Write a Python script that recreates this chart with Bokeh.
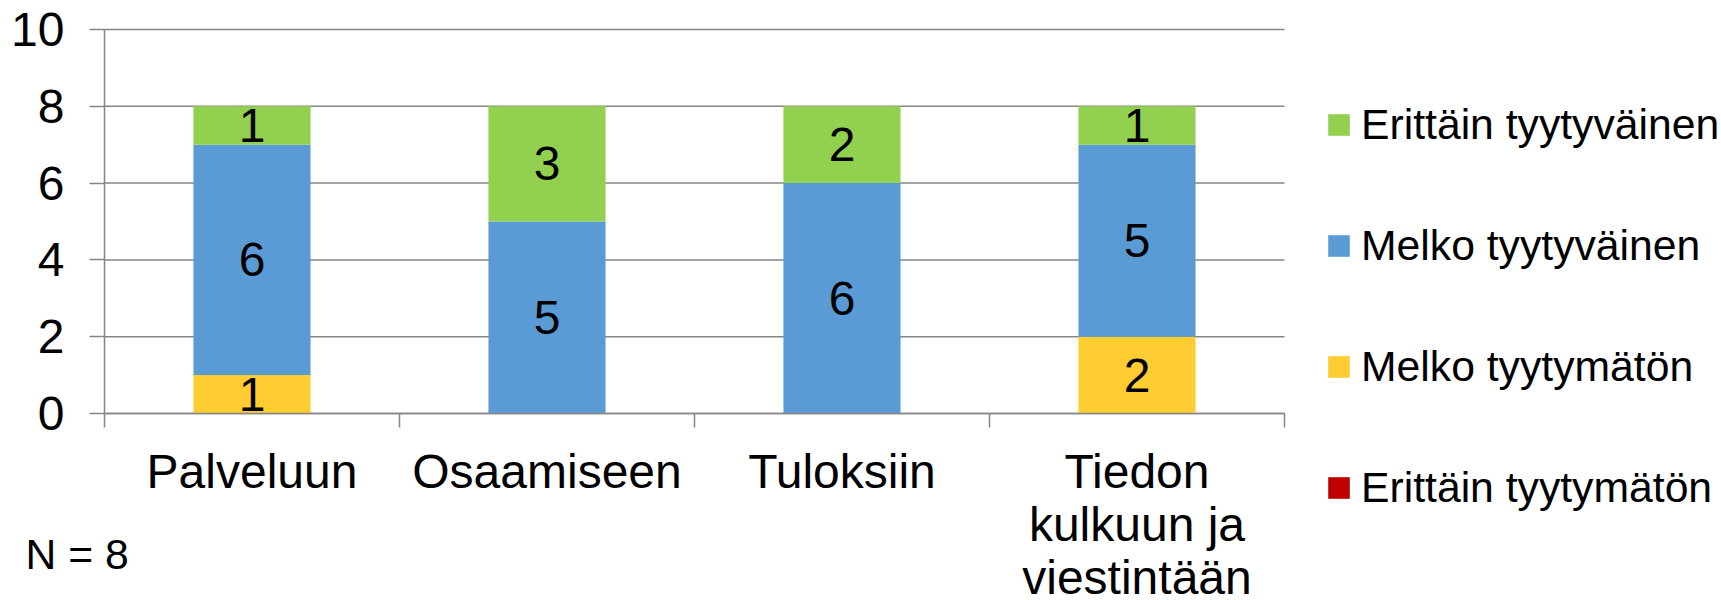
from bokeh.plotting import figure
from bokeh.models import FixedTicker, Legend, LegendItem, Label, ColumnDataSource
from bokeh.embed import file_html
from bokeh.resources import INLINE
from bokeh.core.properties import value
import numpy as np

# ---- data ----
categories = ["Palveluun", "Osaamiseen", "Tuloksiin", "Tiedon\nkulkuun ja\nviestintään"]
series_names = ["Erittäin tyytymätön", "Melko tyytymätön", "Melko tyytyväinen", "Erittäin tyytyväinen"]
erittain_tyytymaton = [0, 0, 0, 0]
melko_tyytymaton = [1, 0, 0, 2]
melko_tyytyvainen = [6, 5, 6, 5]
erittain_tyytyvainen = [1, 3, 2, 1]
series_colors = ["#C00000", "#FFCC32", "#5B9BD5", "#92D050"]
y_ticks = [0, 2, 4, 6, 8, 10]
n_text = "N = 8"

FONT = "Liberation Sans"
GREY = "#868686"
W, H = 1721, 600

series_values = [erittain_tyytymaton, melko_tyytymaton, melko_tyytyvainen, erittain_tyytyvainen]
ncat = len(categories)
xs = np.arange(ncat) + 0.5
keys = ["s0", "s1", "s2", "s3"]
src = ColumnDataSource({"x": xs, **{k: v for k, v in zip(keys, series_values)}})

# frame covers whole canvas; axes are pinned at 0
p = figure(width=W, height=H, output_backend="svg", toolbar_location=None,
           x_range=(-0.3525, 5.4814), y_range=(-4.870, 10.755),
           min_border_left=0, min_border_right=0, min_border_top=0, min_border_bottom=0)
p.outline_line_color = None
p.background_fill_color = "white"
p.border_fill_color = "white"
p.xgrid.visible = False
p.ygrid.visible = False

# gridlines spanning the category area only
p.segment(x0=[0] * len(y_ticks), x1=[ncat] * len(y_ticks), y0=y_ticks, y1=y_ticks,
          line_color=GREY, line_width=1.5)

renderers = p.vbar_stack(keys, x="x", width=0.397, color=series_colors, source=src, line_color=None)

# data labels
arr = np.array(series_values, dtype=float)
cum = np.cumsum(arr, axis=0)
lx, ly, lt = [], [], []
for si in range(arr.shape[0]):
    for ci in range(arr.shape[1]):
        v = arr[si, ci]
        if v > 0:
            lx.append(xs[ci]); ly.append(cum[si, ci] - v / 2); lt.append(str(int(v)))
p.text(x=lx, y=ly, text=lt, text_align="center", text_baseline="middle",
       text_font=value(FONT), text_font_size="48px", text_color="black")

# y axis
p.yaxis.fixed_location = 0
p.yaxis.bounds = (0, 10)
p.yaxis.ticker = FixedTicker(ticks=y_ticks)
p.yaxis.axis_line_color = GREY
p.yaxis.axis_line_width = 1.5
p.yaxis.major_tick_line_color = GREY
p.yaxis.major_tick_line_width = 1.5
p.yaxis.major_tick_out = 15
p.yaxis.major_tick_in = 0
p.yaxis.minor_tick_line_color = None
p.yaxis.major_label_standoff = 25
p.yaxis.major_label_text_font = FONT
p.yaxis.major_label_text_font_size = "48px"
p.yaxis.major_label_text_color = "black"

# x axis
p.xaxis.fixed_location = 0
p.xaxis.bounds = (0, ncat)
p.xaxis.ticker = FixedTicker(ticks=list(xs), minor_ticks=list(range(ncat + 1)))
p.xaxis.major_label_overrides = {float(x): c for x, c in zip(xs, categories)}
p.xaxis.axis_line_color = GREY
p.xaxis.axis_line_width = 1.5
p.xaxis.major_tick_line_color = None
p.xaxis.major_tick_out = 0
p.xaxis.major_tick_in = 0
p.xaxis.minor_tick_line_color = GREY
p.xaxis.minor_tick_line_width = 1.5
p.xaxis.minor_tick_out = 14
p.xaxis.minor_tick_in = 0
p.xaxis.major_label_standoff = 18
p.xaxis.major_label_text_font = FONT
p.xaxis.major_label_text_font_size = "48px"
p.xaxis.major_label_text_color = "black"
p.xaxis.major_label_text_line_height = 1.0

# legend
items = [LegendItem(label=n, renderers=[r]) for n, r in zip(series_names, renderers)][::-1]
legend = Legend(items=items, location=(1325, 88), orientation="vertical",
                label_text_font=FONT, label_text_font_size="42.7px", label_text_color="black",
                glyph_width=27, glyph_height=27, label_standoff=9, spacing=72,
                padding=0, margin=0, border_line_color=None, background_fill_alpha=0)
p.add_layout(legend, "center")

# N label
p.add_layout(Label(x=25, y=47, x_units="screen", y_units="screen", text=n_text,
                   text_font=FONT, text_font_size="42.7px", text_color="black",
                   text_baseline="alphabetic"))

open("out.html", "w").write(file_html(p, INLINE))
